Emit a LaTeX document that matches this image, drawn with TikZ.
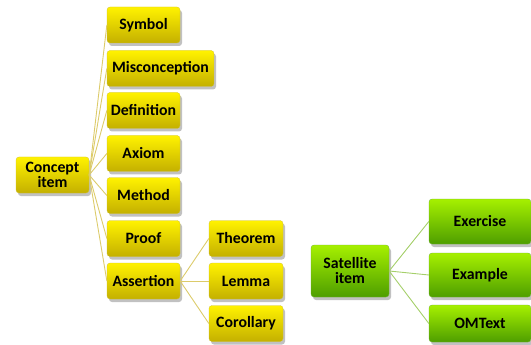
\documentclass[tikz,border=0pt]{standalone}
\usepackage{fontspec}
\setmainfont{Carlito}
\usetikzlibrary{shadows}
\definecolor{ytop}{HTML}{FFF200}
\definecolor{ybot}{HTML}{C4B000}
\definecolor{gtop}{HTML}{A6F000}
\definecolor{gbot}{HTML}{4E9E00}
\definecolor{yline}{HTML}{DCCB6A}
\definecolor{gline}{HTML}{A5CF6A}
\tikzset{
  box/.style={rounded corners=3pt, align=center, inner sep=2pt,
    font=\fontsize{15.8}{16}\selectfont\bfseries, text=black,
    drop shadow={shadow xshift=2pt, shadow yshift=-3pt, opacity=0.35, fill=black!70}},
  ybox/.style={box, top color=ytop, bottom color=ybot, draw=ybot!80, line width=0.3pt,
    minimum height=36pt},
  gbox/.style={box, top color=gtop, bottom color=gbot, draw=gbot!80, line width=0.3pt},
  yconn/.style={draw=yline, line width=0.9pt},
  gconn/.style={draw=gline, line width=0.9pt},
}
\begin{document}
\begin{tikzpicture}[x=1pt,y=-1pt]
\useasboundingbox (0,0) rectangle (531,345);
\node[ybox, minimum width=73pt] (concept) at (52.5,175) {Concept\\[-1pt]item};
\node[ybox, minimum width=73pt] (symbol) at (143.5,25) {Symbol};
\node[ybox, minimum width=107pt] (miscon) at (160.5,68.5) {Misconception};
\node[ybox, minimum width=73pt] (defn) at (143.5,110.5) {Definition};
\node[ybox, minimum width=73pt] (axiom) at (143.5,153.5) {Axiom};
\node[ybox, minimum width=73pt] (method) at (143.5,195.5) {Method};
\node[ybox, minimum width=73pt] (proof) at (143.5,238.5) {Proof};
\node[ybox, minimum width=73pt] (assert) at (143.5,281) {Assertion};
\node[ybox, minimum width=74pt] (theorem) at (246,238.5) {Theorem};
\node[ybox, minimum width=74pt] (lemma) at (246,281) {Lemma};
\node[ybox, minimum width=74pt] (corollary) at (246,323.5) {Corollary};
\node[gbox, minimum width=78pt, minimum height=52pt] (sat) at (350,271) {Satellite\\[-1pt]item};
\node[gbox, minimum width=102pt, minimum height=45pt] (exercise) at (480,221.5) {Exercise};
\node[gbox, minimum width=102pt, minimum height=44pt] (example) at (480,275) {Example};
\node[gbox, minimum width=102pt, minimum height=37pt] (omtext) at (480,323.5) {OMText};
\foreach \c in {symbol,miscon,defn,axiom,method,proof,assert}
  \draw[yconn] (concept.east) -- (\c.west);
\foreach \c in {theorem,lemma,corollary}
  \draw[yconn] (assert.east) -- (\c.west);
\foreach \c in {exercise,example,omtext}
  \draw[gconn] (sat.east) -- (\c.west);
\end{tikzpicture}
\end{document}
